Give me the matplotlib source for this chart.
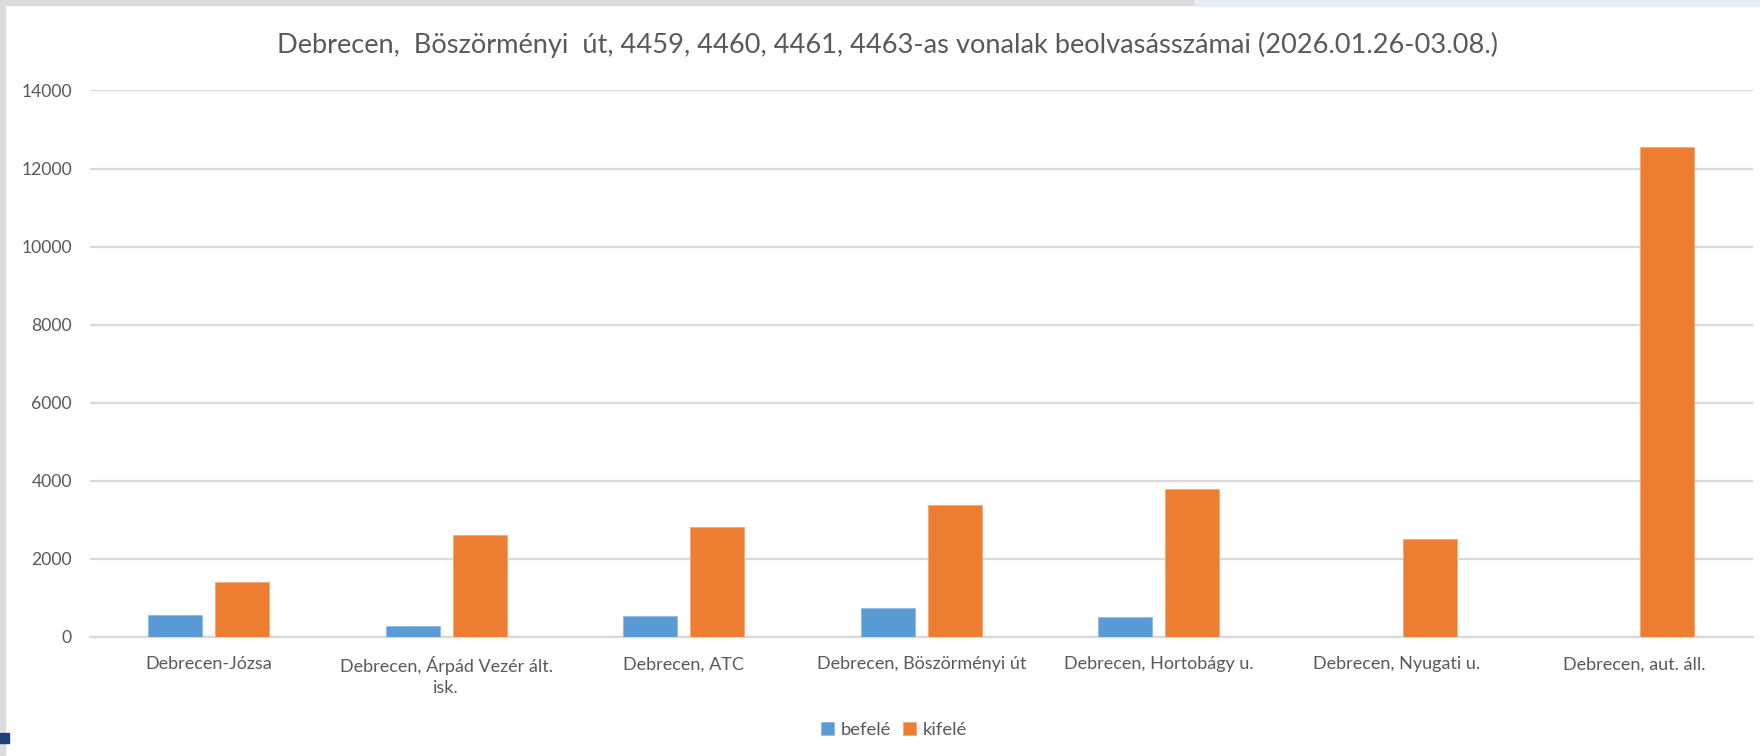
import numpy as np
from matplotlib import pyplot as plt
from matplotlib.patches import Rectangle

plt.rcParams["font.family"] = ["Lato", "DejaVu Sans"]

# data
stops = [
    "Debrecen-Józsa",
    "Debrecen, Árpád Vezér ált.\nisk.",
    "Debrecen, ATC",
    "Debrecen, Böszörményi út",
    "Debrecen, Hortobágy u.",
    "Debrecen, Nyugati u.",
    "Debrecen, aut. áll.",
]
befele = [555, 280, 520, 740, 495, 0, 0]
kifele = [1412, 2598, 2818, 3372, 3790, 2512, 12545]

title = ("Debrecen,  Böszörményi  út, 4459, 4460, 4461, "
         "4463-as vonalak beolvasásszámai (2026.01.26-03.08.)")

text_color = "#595959"
grid_color = "#d9d9d9"

fig = plt.figure(figsize=(17.6, 7.56), dpi=100)
ax = fig.add_axes([0.0511, 0.1578, 0.9447, 0.7225])

x = np.arange(len(stops))
width = 0.227
offset = 0.1406

ax.bar(x - offset, befele, width, color="#5b9bd5", label="befelé", zorder=3,
       edgecolor="#8fbbe4", linewidth=0.6)
ax.bar(x + offset, kifele, width, color="#ed7d31", label="kifelé", zorder=3,
       edgecolor="#f5a877", linewidth=0.6)

ax.set_xlim(-0.5, len(stops) - 0.5)
ax.set_ylim(0, 14000)
ax.set_yticks(np.arange(0, 14001, 2000))
ax.set_xticks(x)
ax.set_xticklabels(stops, fontsize=13, color=text_color, linespacing=1.35)
ax.tick_params(axis="y", labelsize=12.6, colors=text_color, length=0, pad=13)
ax.tick_params(axis="x", length=0, pad=14)

ax.grid(axis="y", color=grid_color, linewidth=1.6, zorder=0)
ax.grid(axis="x", visible=False)
for side in ["top", "right", "left"]:
    ax.spines[side].set_visible(False)
ax.spines["bottom"].set_color(grid_color)
ax.spines["bottom"].set_linewidth(1.6)

fig.text(0.504, 0.94, title, ha="center", va="center",
         fontsize=19.6, color=text_color)

fig.legend(loc="center", bbox_to_anchor=(0.508, 0.034), ncol=2, frameon=False,
           fontsize=13.3, labelcolor=text_color, handlelength=0.7,
           handleheight=0.7, handletextpad=0.4, columnspacing=0.6)

# screenshot frame bits
fig.patches.append(Rectangle((0, 0.9934), 0.679, 0.0066, transform=fig.transFigure,
                             color="#dcdcdc", zorder=0))
fig.patches.append(Rectangle((0.679, 0.992), 0.321, 0.008, transform=fig.transFigure,
                             color="#e6eef8", zorder=0))
fig.patches.append(Rectangle((0.0, 0.0), 0.0028, 0.9934, transform=fig.transFigure,
                             color="#dcdcdc", zorder=0))
fig.patches.append(Rectangle((0.0, 0.017), 0.005, 0.014, transform=fig.transFigure,
                             color="#1f3f7a", zorder=0))

fig.savefig("out.png", dpi=100, facecolor="white")
